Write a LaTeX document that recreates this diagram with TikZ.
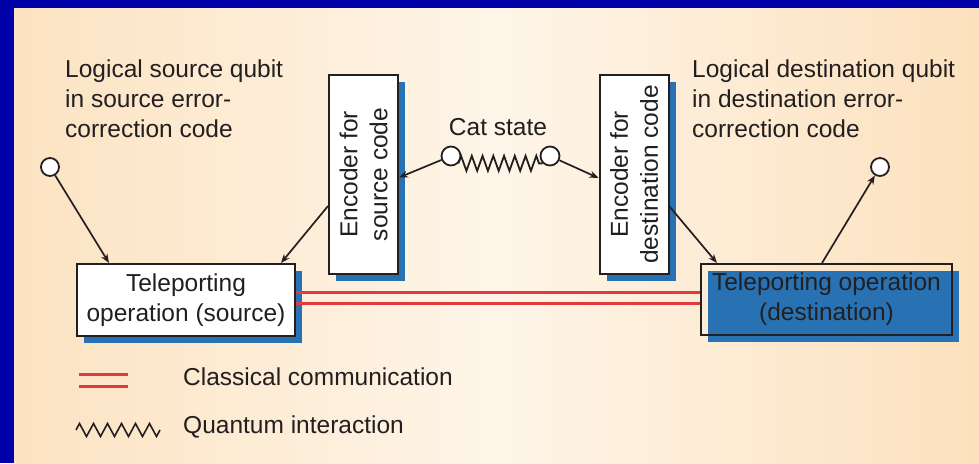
\documentclass[tikz,border=0pt]{standalone}
\usepackage{fontspec}
\setmainfont{Liberation Sans}
\usetikzlibrary{arrows.meta,shadows,decorations.pathmorphing,calc}
\definecolor{bordblue}{RGB}{0,0,168}
\definecolor{shblue}{RGB}{40,114,180}
\definecolor{redline}{RGB}{226,58,62}
\definecolor{ink}{RGB}{35,31,32}
\definecolor{bgL}{RGB}{252,227,194}
\definecolor{bgM}{RGB}{254,245,232}
\definecolor{bgR}{RGB}{252,225,190}
\begin{document}
\begin{tikzpicture}[x=1pt,y=-1pt,
  font=\fontsize{24.5}{30}\selectfont, text=ink,
  opbox/.style={draw=ink, line width=2pt, inner sep=0pt, align=center,
    drop shadow={shadow xshift=7pt, shadow yshift=-7pt, fill=shblue, opacity=1}},
  qubit/.style={circle, draw=ink, fill=white, line width=1.8pt, minimum size=18pt, inner sep=0pt},
  catq/.style={circle, draw=ink, fill=white, line width=1.8pt, minimum size=19pt, inner sep=0pt},
  arr/.style={draw=ink, line width=1.7pt, -{Stealth[length=9pt,width=7pt]}},
  redl/.style={draw=redline, line width=3pt},
  zz/.style={draw=ink, line width=1.8pt, decorate, decoration={zigzag, segment length=10.75pt, amplitude=7.5pt}},
  lbl/.style={inner sep=0pt}]
\useasboundingbox (0,0) rectangle (979,463);
\shade[left color=bgL, right color=bgR, middle color=bgM] (14,8) rectangle (979,463);
\fill[bordblue] (0,0) rectangle (979,8);
\fill[bordblue] (0,0) rectangle (14,463);

% boxes
\node[opbox, fill=white, minimum width=218pt, minimum height=72pt] (src) at (186,300) {Teleporting\\operation (source)};
\node[opbox, minimum width=251pt, minimum height=71pt] (dst) at (826.5,299.5) {Teleporting operation\\(destination)};
\node[opbox, fill=white, minimum width=69pt, minimum height=199pt] (encS) at (363.5,174.5) {};
\node[lbl, rotate=90, align=center] (encSt) at (encS.center) {Encoder for\\source code};
\node[opbox, fill=white, minimum width=69pt, minimum height=199pt] (encD) at (634,174.5) {};
\node[lbl, rotate=90, align=center] (encDt) at (encD.center) {Encoder for\\destination code};

% qubits
\node[qubit] (qL) at (50,167) {};
\node[qubit] (qR) at (880,167) {};
\node[catq] (catL) at (451,156) {};
\node[catq] (catR) at (550,156) {};

% connectors
\draw[arr] (qL) -- ([xshift=33pt]src.north west);
\draw[arr] ([yshift=-31.5pt]encS.west) -- ([xshift=-15pt]src.north east);
\draw[arr] (catL) -- ([yshift=-3pt]encS.east);
\draw[arr] (catR) -- ([yshift=-3.5pt]encD.west);
\draw[arr] ([yshift=-32pt]encD.east) -- ([xshift=17pt]dst.north west);
\draw[arr] ([xshift=-4.5pt]dst.north) -- (qR);
\draw[zz] (catL.south east) -- (catR.south west);

\draw[redl] ([yshift=8pt]src.east) -- ([yshift=7.5pt]dst.west);
\draw[redl] ([yshift=-3pt]src.east) -- ([yshift=-3.5pt]dst.west);

% texts
\node[lbl, anchor=north west, align=left] (srcq) at (65,60) {Logical source qubit\\in source error-\\correction code};
\node[lbl, anchor=north west, align=left] (dstq) at (692,60) {Logical destination qubit\\in destination error-\\correction code};
\node[lbl, anchor=base] (cat) at (498,135) {Cat state};

% legend
\coordinate (lcA) at (79,374); \coordinate (lcB) at (128,374);
\coordinate (lcC) at (79,386); \coordinate (lcD) at (128,386);
\draw[redl] (lcA) -- (lcB);
\draw[redl] (lcC) -- (lcD);
\coordinate (lzA) at (76,430); \coordinate (lzB) at (160,430);
\draw[zz, line width=1.6pt, decoration={zigzag, segment length=14pt, amplitude=6.5pt}] (lzA) -- (lzB);
\node[lbl, anchor=base west] (lc) at (183,385) {Classical communication};
\node[lbl, anchor=base west] (lq) at (183,433) {Quantum interaction};
\end{tikzpicture}
\end{document}
